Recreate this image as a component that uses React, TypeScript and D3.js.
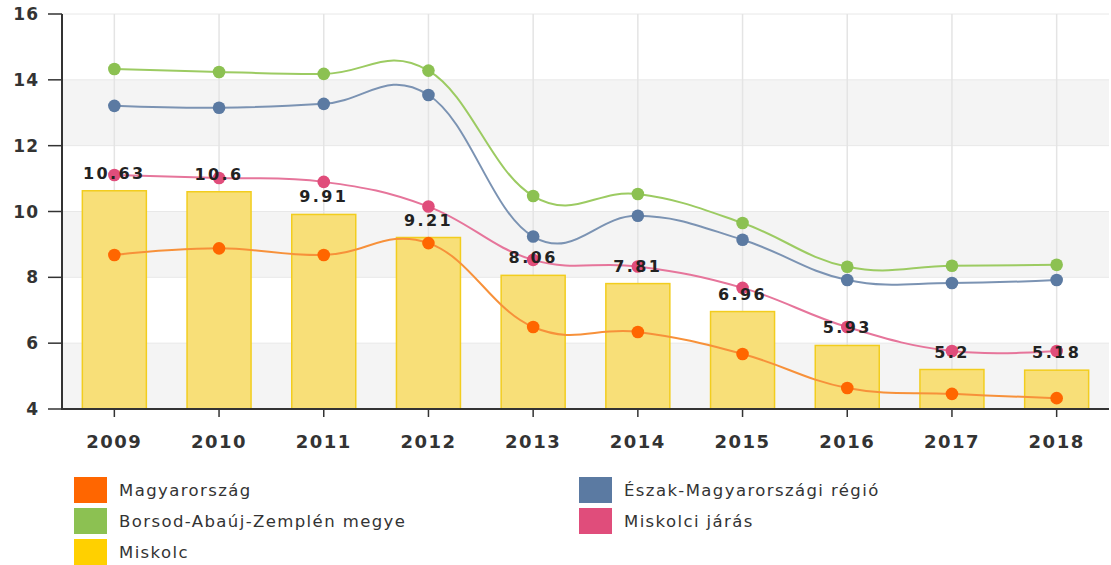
import React from "react";
import * as d3 from "d3";

const years = ["2009", "2010", "2011", "2012", "2013", "2014", "2015", "2016", "2017", "2018"];
const miskolc = [10.63, 10.6, 9.91, 9.21, 8.06, 7.81, 6.96, 5.93, 5.2, 5.18];
const magyarorszag = [8.68, 8.88, 8.68, 9.04, 6.49, 6.34, 5.67, 4.64, 4.46, 4.33];
const eszak = [13.21, 13.15, 13.27, 13.54, 9.24, 9.87, 9.14, 7.92, 7.83, 7.92];
const borsod = [14.33, 14.24, 14.18, 14.28, 10.47, 10.53, 9.65, 8.32, 8.35, 8.38];
const jaras = [11.11, 11.02, 10.9, 10.15, 8.53, 8.33, 7.68, 6.49, 5.76, 5.76];
const yTicks = [4, 6, 8, 10, 12, 14, 16];

const lineSeries = [
  { name: "Magyarország", values: magyarorszag, line: "#f7913a", marker: "#ff6600" },
  { name: "Borsod-Abaúj-Zemplén megye", values: borsod, line: "#9ccb62", marker: "#8cc152" },
  { name: "Észak-Magyarországi régió", values: eszak, line: "#7b93b3", marker: "#5b7aa2" },
  { name: "Miskolci járás", values: jaras, line: "#e6759b", marker: "#e04d7b" },
];

const legendItems = [
  { name: "Magyarország", color: "#ff6600", col: 0, row: 0 },
  { name: "Észak-Magyarországi régió", color: "#5b7aa2", col: 1, row: 0 },
  { name: "Borsod-Abaúj-Zemplén megye", color: "#8cc152", col: 0, row: 1 },
  { name: "Miskolci járás", color: "#e04d7b", col: 1, row: 1 },
  { name: "Miskolc", color: "#ffd000", col: 0, row: 2 },
];

const W = 1111;
const H = 565;
const left = 62;
const right = 1109;
const top = 14;
const bottom = 409;

function splinePath(pts: [number, number][]): string {
  const smoothing = 1.5;
  const denom = smoothing + 1;
  const rc: ([number, number] | null)[] = pts.map(() => null);
  const lc: ([number, number] | null)[] = pts.map(() => null);
  for (let i = 1; i < pts.length - 1; i++) {
    const [px, py] = pts[i];
    const [lx, ly] = pts[i - 1];
    const [nx, ny] = pts[i + 1];
    const lcx = (smoothing * px + lx) / denom;
    let lcy = (smoothing * py + ly) / denom;
    const rcx = (smoothing * px + nx) / denom;
    let rcy = (smoothing * py + ny) / denom;
    let correction = 0;
    if (rcx !== lcx) {
      correction = ((rcy - lcy) * (rcx - px)) / (rcx - lcx) + py - rcy;
    }
    lcy += correction;
    rcy += correction;
    lc[i] = [lcx, lcy];
    rc[i] = [rcx, rcy];
  }
  const p = d3.path();
  p.moveTo(pts[0][0], pts[0][1]);
  for (let i = 1; i < pts.length; i++) {
    const a = rc[i - 1] || pts[i - 1];
    const b = lc[i] || pts[i];
    p.bezierCurveTo(a[0], a[1], b[0], b[1], pts[i][0], pts[i][1]);
  }
  return p.toString();
}

export default function App() {
  const x = d3.scaleBand<string>().domain(years).range([left, right]).padding(0);
  const y = d3.scaleLinear().domain([4, 16]).range([bottom, top]);
  const cx = (yr: string) => (x(yr) as number) + x.bandwidth() / 2;
  const barW = 64;

  const bands = [];
  for (let i = 0; i < yTicks.length - 1; i++) {
    if (i % 2 === 0) {
      bands.push(
        <rect key={"b" + i} x={left} y={y(yTicks[i + 1])} width={right - left}
          height={y(yTicks[i]) - y(yTicks[i + 1])} fill="#f4f4f4" />
      );
    }
  }

  return (
    <div style={{ position: "absolute", left: 0, top: 0 }}>
      <svg width={W} height={H} style={{ display: "block", background: "#fff" }}
        fontFamily="'DejaVu Sans', Verdana, sans-serif">
        {bands}
        {yTicks.map((t) => (
          <line key={"hg" + t} x1={left} x2={right} y1={y(t)} y2={y(t)} stroke="#e8e8e8" strokeWidth={1} />
        ))}
        {years.map((yr) => (
          <line key={"vg" + yr} x1={cx(yr)} x2={cx(yr)} y1={top} y2={bottom} stroke="#e4e4e4" strokeWidth={1.5} />
        ))}
        {years.map((yr, i) => (
          <rect key={"bar" + yr} x={cx(yr) - barW / 2} y={y(miskolc[i])} width={barW}
            height={bottom - y(miskolc[i])} fill="#f8df78" stroke="#f2cd1e" strokeWidth={1.5} />
        ))}
        {lineSeries.map((s) => (
          <path key={"l" + s.name}
            d={splinePath(years.map((yr, i) => [cx(yr), y(s.values[i])] as [number, number]))}
            fill="none" stroke={s.line} strokeWidth={2} />
        ))}
        {lineSeries.map((s) =>
          years.map((yr, i) => (
            <circle key={"m" + s.name + yr} cx={cx(yr)} cy={y(s.values[i])} r={6.3} fill={s.marker} />
          ))
        )}
        {years.map((yr, i) => (
          <text key={"dl" + yr} x={cx(yr)} y={y(miskolc[i]) - 12} textAnchor="middle"
            fontSize={16} fontWeight="bold" letterSpacing={2.4} fill="#222">
            {String(miskolc[i])}
          </text>
        ))}
        <line x1={left} x2={left} y1={top} y2={bottom + 1} stroke="#333" strokeWidth={2} />
        <line x1={left - 1} x2={right} y1={bottom} y2={bottom} stroke="#333" strokeWidth={2} />
        {yTicks.map((t) => (
          <g key={"yt" + t}>
            <line x1={48} x2={left} y1={y(t)} y2={y(t)} stroke="#333" strokeWidth={1.5} />
            <text x={39} y={y(t) + 6} textAnchor="end" fontSize={17} fontWeight="bold"
              letterSpacing={1} fill="#333">{t}</text>
          </g>
        ))}
        {years.map((yr) => (
          <g key={"xt" + yr}>
            <line x1={cx(yr)} x2={cx(yr)} y1={bottom} y2={bottom + 8} stroke="#333" strokeWidth={1.5} />
            <text x={cx(yr)} y={448} textAnchor="middle" fontSize={18} fontWeight="bold"
              letterSpacing={1.5} fill="#333">{yr}</text>
          </g>
        ))}
        {legendItems.map((it) => {
          const sx = it.col === 0 ? 74 : 579;
          const sy = 477 + it.row * 31;
          return (
            <g key={"lg" + it.name}>
              <rect x={sx} y={sy} width={33} height={26} fill={it.color} />
              <text x={sx + 45} y={sy + 19} fontSize={16.5} letterSpacing={1.4} fill="#333">{it.name}</text>
            </g>
          );
        })}
      </svg>
    </div>
  );
}
